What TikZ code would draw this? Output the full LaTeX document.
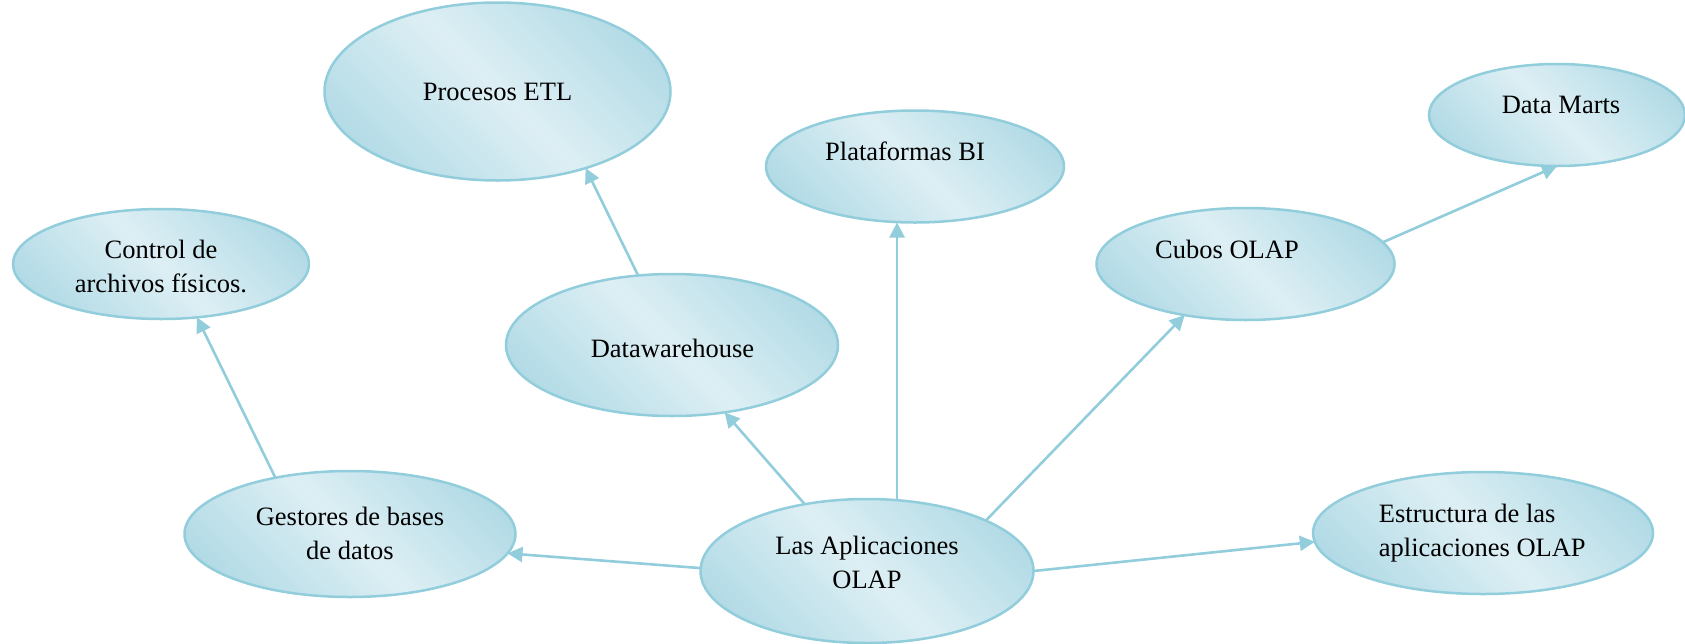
\documentclass[tikz,border=0pt]{standalone}
\usepackage{fontspec}
\setmainfont{Liberation Serif}
\usetikzlibrary{shapes.geometric,arrows.meta}

\definecolor{bubbleedge}{RGB}{146,205,220}
\definecolor{bubbledark}{RGB}{160,210,224}
\definecolor{bubblelight}{RGB}{221,239,244}
% soft light band running from upper left to lower right
\pgfdeclarehorizontalshading{bubbleshade}{100bp}{%
  color(0bp)=(bubbledark); color(12bp)=(bubbledark);
  color(50bp)=(bubblelight); color(88bp)=(bubbledark);
  color(100bp)=(bubbledark)}

\begin{document}
\begin{tikzpicture}[x=1pt,y=-1pt,
  bubble/.style={ellipse, draw=bubbleedge, line width=2.5pt, shade,
    shading=bubbleshade, shading angle=45, inner sep=0pt, outer sep=0pt},
  lbl/.style={font=\fontsize{26.5}{34}\selectfont, align=center, inner sep=0pt},
  link/.style={draw=bubbleedge, line width=2.6pt,
    -{Triangle[length=15pt,width=15pt]}}]

\path[use as bounding box] (0,0) rectangle (1685,643);

% bubbles
\node[bubble, minimum width=346, minimum height=178] (etl)   at (497.5,91.5) {};
\node[bubble, minimum width=298, minimum height=112] (plat)  at (915,166.5) {};
\node[bubble, minimum width=256, minimum height=102] (dm)    at (1557,115) {};
\node[bubble, minimum width=296, minimum height=110] (ctrl)  at (161,264) {};
\node[bubble, minimum width=332, minimum height=142] (dw)    at (672,345) {};
\node[bubble, minimum width=298, minimum height=112] (cubos) at (1245.5,264) {};
\node[bubble, minimum width=331, minimum height=126] (gest)  at (350,534) {};
\node[bubble, minimum width=333, minimum height=144] (olap)  at (867,571) {};
\node[bubble, minimum width=340, minimum height=122] (estr)  at (1483,533) {};

% labels
\node[lbl] (etl-t)   at (497.5,91.5) {Procesos ETL};
\node[lbl] (plat-t)  at (905,151.5) {Plataformas BI};
\node[lbl] (dm-t)    at (1561,105) {Data Marts};
\node[lbl] (ctrl-t)  at (161,266) {Control de\\archivos físicos.};
\node[lbl] (dw-t)    at (672.5,348) {Datawarehouse};
\node[lbl] (cubos-t) at (1227,249) {Cubos OLAP};
\node[lbl] (gest-t)  at (350,533) {Gestores de bases\\de datos};
\node[lbl] (olap-t)  at (867,562) {Las Aplicaciones\\OLAP};
\node[lbl, align=left, anchor=west] (estr-t) at (1378.7,533)
  {Estructura de las\\aplicaciones OLAP};

% connectors
\draw[link] (gest.143)   -- (ctrl.-56.3);
\draw[link] (olap.133.7) -- (dw.-52.2);
\draw[link] (olap.67)    -- (olap.67 |- plat.south);
\draw[link] (olap.23.1)  -- (cubos.-140.7);
\draw[link] (olap.179.5) -- (gest.-7.7);
\draw[link] (olap.0.9)   -- (estr.183.6);
\draw[link] (dw.116.9)   -- (etl.-41.2);
\draw[link] (cubos.9.2)  -- (dm.south);
\end{tikzpicture}
\end{document}
